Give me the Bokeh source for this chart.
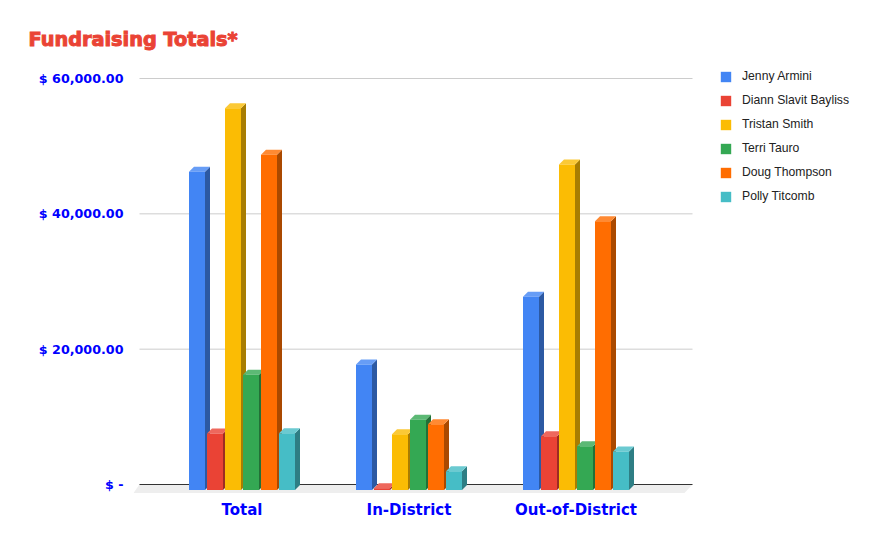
from bokeh.plotting import figure
from bokeh.models import ColumnDataSource, Legend, LegendItem, FixedTicker, Range1d, Title
from bokeh.embed import file_html
from bokeh.resources import INLINE

categories = ["Total", "In-District", "Out-of-District"]
candidates = ["Jenny Armini", "Diann Slavit Bayliss", "Tristan Smith", "Terri Tauro", "Doug Thompson", "Polly Titcomb"]
jenny = [47050, 18550, 28550]
diann = [8350, 270, 7950]
tristan = [56400, 8250, 48100]
terri = [17050, 10400, 6450]
doug = [49550, 9700, 39700]
polly = [8400, 2780, 5700]
series = [jenny, diann, tristan, terri, doug, polly]
colors = ["#4285F4", "#EA4335", "#FBBC04", "#34A853", "#FF6D01", "#46BDC6"]
y_ticks = [0, 20000, 40000, 60000]
y_labels = {0: "$ -", 20000: "$ 20,000.00", 40000: "$ 40,000.00", 60000: "$ 60,000.00"}

# projection of the pseudo-3D chart, in pixels of the plot frame
FRAME_W, FRAME_H = 728, 423
PLOT_W = 559                 # width of floor and rules inside the frame
GROUP_PX = 167
PX_PER_USD = 406 / 60000
UX = 1 / GROUP_PX            # data units per pixel on x
UY = 1 / PX_PER_USD          # data units per pixel on y
DEPTH = 5
BAR_W = 16 * UX
BAR_STEP = 18 * UX
BASE = -5.5 * UY

x0 = -(241.5 - 133) * UX
x1 = x0 + FRAME_W * UX
xr = x0 + PLOT_W * UX
y0 = -9 * UY
y1 = y0 + FRAME_H * UY


def shade(c, f):
    r, g, b = int(c[1:3], 16), int(c[3:5], 16), int(c[5:7], 16)
    return "#%02x%02x%02x" % (int(r * f), int(g * f), int(b * f))


def tint(c, f):
    r, g, b = int(c[1:3], 16), int(c[3:5], 16), int(c[5:7], 16)
    return "#%02x%02x%02x" % (int(r + (255 - r) * f), int(g + (255 - g) * f), int(b + (255 - b) * f))


p = figure(width=861, height=531, output_backend="svg", toolbar_location=None,
           x_range=Range1d(x0, x1), y_range=Range1d(y0, y1),
           min_border_left=133, min_border_right=0, min_border_bottom=38, min_border_top=70,
           outline_line_color=None, background_fill_color="white", border_fill_color="white")

p.title = Title(text="Fundraising Totals*", text_color="#EA4335", text_font="DejaVu Sans",
                text_font_size="19.3px", text_font_style="bold", align="left", offset=-105, standoff=39,
                text_outline_color="#EA4335")

p.xgrid.visible = False
p.ygrid.visible = False

# floor and rules
p.patch([x0 + 6 * UX, xr, xr - 8 * UX, x0], [0, 0, y0 + 0.5 * UY, y0 + 0.5 * UY],
        fill_color="#eeeeee", line_color=None)
p.segment([x0 + 6 * UX] * 3, y_ticks[1:], [xr] * 3, y_ticks[1:], line_color="#cccccc", line_width=1)
p.segment([x0 + 6 * UX], [0], [xr], [0], line_color="#333333", line_width=1)

items = []
for i, (name, vals, c) in enumerate(zip(candidates, series, colors)):
    xc = [g + (i - 2.5) * BAR_STEP for g in range(3)]
    tops = [BASE + v for v in vals]
    lefts = [x - BAR_W / 2 for x in xc]
    rights = [x + BAR_W / 2 for x in xc]
    dx, dy = DEPTH * UX, DEPTH * UY
    p.patches([[r, r + dx, r + dx, r] for r in rights],
              [[BASE, BASE + dy, t + dy, t] for t in tops],
              fill_color=shade(c, 0.67), line_color=None)
    p.patches([[l, r, r + dx, l + dx] for l, r in zip(lefts, rights)],
              [[t, t, t + dy, t + dy] for t in tops],
              fill_color=tint(c, 0.2), line_color=None)
    src = ColumnDataSource(dict(x=xc, top=tops, bottom=[BASE] * 3))
    r = p.vbar(x="x", top="top", bottom="bottom", width=BAR_W, source=src, fill_color=c, line_color=None)
    items.append(LegendItem(label=name, renderers=[r]))

# axes
p.yaxis.ticker = FixedTicker(ticks=y_ticks)
p.yaxis.major_label_overrides = y_labels
p.yaxis.axis_line_color = None
p.yaxis.major_tick_line_color = None
p.yaxis.minor_tick_line_color = None
p.yaxis.major_tick_out = 0
p.yaxis.major_label_standoff = 10
p.yaxis.major_label_text_color = "#0000ff"
p.yaxis.major_label_text_font = "DejaVu Sans"
p.yaxis.major_label_text_font_style = "bold"
p.yaxis.major_label_text_font_size = "12.7px"

p.xaxis.ticker = FixedTicker(ticks=[0, 1, 2])
p.xaxis.major_label_overrides = {i: c for i, c in enumerate(categories)}
p.xaxis.axis_line_color = None
p.xaxis.major_tick_line_color = None
p.xaxis.minor_tick_line_color = None
p.xaxis.major_label_standoff = 1
p.xaxis.major_label_text_color = "#0000ff"
p.xaxis.major_label_text_font = "DejaVu Sans"
p.xaxis.major_label_text_font_style = "bold"
p.xaxis.major_label_text_font_size = "15px"

legend = Legend(items=items, location=(586, 288), orientation="vertical",
                glyph_width=13, glyph_height=13, label_standoff=10, spacing=6,
                padding=0, margin=0, label_height=18, border_line_color=None,
                background_fill_alpha=0, label_text_font="Liberation Sans",
                label_text_font_size="12.2px", label_text_color="#222222")
p.add_layout(legend, "center")

open("out.html", "w").write(file_html(p, INLINE))
